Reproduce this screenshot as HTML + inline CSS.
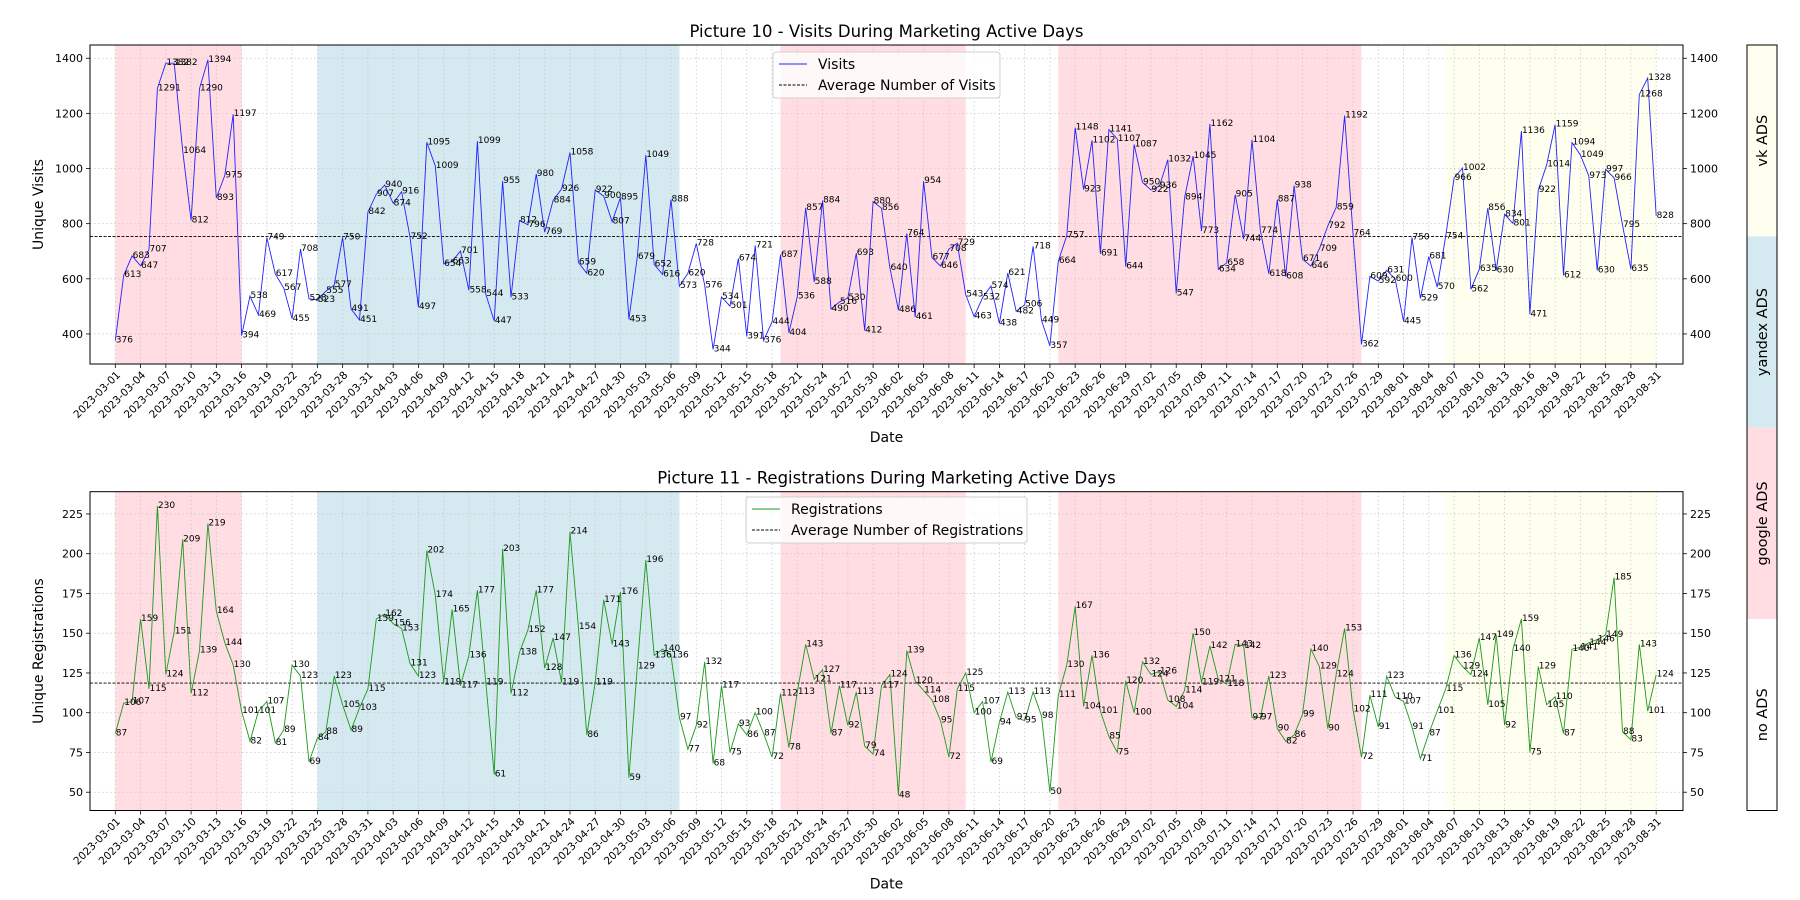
<!DOCTYPE html>
<html><head><meta charset="utf-8">
<style>
html,body{margin:0;padding:0;background:#fff;}
svg{display:block;font-family:"DejaVu Sans","Liberation Sans",sans-serif;}
</style></head>
<body>
<svg id="fig" width="1800" height="900" viewBox="0 0 1800 900" xmlns="http://www.w3.org/2000/svg"></svg>
<script>
// ---------- data ----------
const startDate = "2023-03-01";
const visits = [376,613,683,647,707,1291,1382,1382,1064,812,1290,1394,893,975,1197,394,538,469,749,617,567,455,708,528,523,555,577,750,491,451,842,907,940,874,916,752,497,1095,1009,654,663,701,558,1099,544,447,955,533,812,796,980,769,884,926,1058,659,620,922,900,807,895,453,679,1049,652,616,888,573,620,728,576,344,534,501,674,391,721,376,444,687,404,536,857,588,884,490,516,530,693,412,880,856,640,486,764,461,954,677,646,708,729,543,463,532,574,438,621,482,506,718,449,357,664,757,1148,923,1102,691,1141,1107,644,1087,950,922,936,1032,547,894,1045,773,1162,634,658,905,744,1104,774,618,887,608,938,671,646,709,792,859,1192,764,362,609,592,631,600,445,750,529,681,570,754,966,1002,562,635,856,630,834,801,1136,471,922,1014,1159,612,1094,1049,973,630,997,966,795,635,1268,1328,828];
const registrations = [87,106,107,159,115,230,124,151,209,112,139,219,164,144,130,101,82,101,107,81,89,130,123,69,84,88,123,105,89,103,115,159,162,156,153,131,123,202,174,119,165,117,136,177,119,61,203,112,138,152,177,128,147,119,214,154,86,119,171,143,176,59,129,196,136,140,136,97,77,92,132,68,117,75,93,86,100,87,72,112,78,113,143,121,127,87,117,92,113,79,74,117,124,48,139,120,114,108,95,72,115,125,100,107,69,94,113,97,95,113,98,50,111,130,167,104,136,101,85,75,120,100,132,124,126,108,104,114,150,119,142,121,118,143,142,97,97,123,90,82,86,99,140,129,90,124,153,102,72,111,91,123,110,107,91,71,87,101,115,136,129,124,147,105,149,92,140,159,75,129,105,110,87,140,141,144,146,149,185,88,83,143,101,124];
// campaign spans: [start day index, end day index, type]
const spanStarts = [0,24,79,112,158];
const spanEnds   = [15,67,101,148,183];
const spanTypes  = ["google","yandex","google","google","vk"];
const visitTicks = [400,600,800,1000,1200,1400];
const regTicks = [50,75,100,125,150,175,200,225];
const adLabels = ["vk ADS","yandex ADS","google ADS","no ADS"];

// ---------- helpers ----------
const NS="http://www.w3.org/2000/svg";
const svg=document.getElementById('fig');
function mk(tag,attrs,parent){const e=document.createElementNS(NS,tag);for(const k in attrs)e.setAttribute(k,attrs[k]);(parent||svg).appendChild(e);return e;}
const spanColor={google:"#ffdde2",yandex:"#d5e9f0",vk:"#fffff0"};
function dateStr(i){const d=new Date(startDate+"T00:00:00Z");d.setUTCDate(d.getUTCDate()+i);return d.toISOString().slice(0,10);}

const X0=90,X1=1683;
const xDay0=115.3, dayW=8.42;
function xS(i){return xDay0+i*dayW;}

function drawChart(cfg){
  const g=mk('g',{});
  
  
  const {top,bottom,ymin,ymax}=cfg;
  const yS=v=>bottom-(v-ymin)/(ymax-ymin)*(bottom-top);
  // spans
  for(let s=0;s<spanStarts.length;s++){
    const r=mk('rect',{x:xS(spanStarts[s]),y:top,width:xS(spanEnds[s])-xS(spanStarts[s]),height:bottom-top,fill:spanColor[spanTypes[s]]},g);
    
    
  }
  // grid
  for(let i=0;i<cfg.data.length;i+=3){
    mk('line',{x1:xS(i),x2:xS(i),y1:top,y2:bottom,stroke:"#c8c8c8","stroke-width":0.8,"stroke-dasharray":"1.5,2.5"},g);
  }
  cfg.ticks.forEach(t=>{
    mk('line',{x1:X0,x2:X1,y1:yS(t),y2:yS(t),stroke:"#c8c8c8","stroke-width":0.8,"stroke-dasharray":"1.5,2.5"},g);
  });
  // average
  const avg=cfg.data.reduce((a,b)=>a+b,0)/cfg.data.length;
  const av=mk('line',{x1:X0,x2:X1,y1:yS(avg),y2:yS(avg),stroke:"#000","stroke-width":0.9,"stroke-dasharray":"3,1.5"},g);
  
  
  // series
  const pts=cfg.data.map((v,i)=>xS(i).toFixed(1)+","+yS(v).toFixed(1)).join(" ");
  const pl=mk('polyline',{points:pts,fill:"none",stroke:cfg.color,"stroke-width":0.9},g);
  
  
  // labels
  cfg.data.forEach((v,i)=>{
    const t=mk('text',{x:xS(i)+0.5,y:yS(v)+2,"font-size":9,fill:"#000"},g);
    t.textContent=v;
    
    
  });
  // frame
  mk('rect',{x:X0,y:top,width:X1-X0,height:bottom-top,fill:"none",stroke:"#000","stroke-width":1},g);
  // y ticks both sides
  cfg.ticks.forEach(t=>{
    const y=yS(t);
    mk('line',{x1:X0-4,x2:X0,y1:y,y2:y,stroke:"#000","stroke-width":0.8},g);
    mk('line',{x1:X1,x2:X1+4,y1:y,y2:y,stroke:"#000","stroke-width":0.8},g);
    const l=mk('text',{x:X0-7,y:y+4,"font-size":11,"text-anchor":"end"},g);l.textContent=t;
    
    
    const r=mk('text',{x:X1+7,y:y+4,"font-size":11},g);r.textContent=t;
    
    
  });
  // x ticks
  for(let i=0;i<cfg.data.length;i+=3){
    const x=xS(i);
    mk('line',{x1:x,x2:x,y1:bottom,y2:bottom+4,stroke:"#000","stroke-width":0.8},g);
    const t=mk('text',{transform:`translate(${x+3},${bottom+9}) rotate(-45)`,"font-size":10.5,"text-anchor":"end",dy:"0.35em"},g);
    t.textContent=dateStr(i);
    
    
  }
  // title / axis labels
  const ti=mk('text',{x:(X0+X1)/2,y:top-8,"font-size":16.5,"text-anchor":"middle"},g);ti.textContent=cfg.title;
  
  
  const xl=mk('text',{x:(X0+X1)/2,y:bottom+78,"font-size":14,"text-anchor":"middle"},g);xl.textContent="Date";
  
  
  const yl=mk('text',{transform:`translate(43,${(top+bottom)/2}) rotate(-90)`,"font-size":14,"text-anchor":"middle"},g);yl.textContent=cfg.ylabel;
  
  
  // legend
  const L=cfg.legend;
  const lg=mk('g',{},g);
  
  
  mk('rect',{x:L.x,y:L.y,width:L.w,height:46,rx:3,fill:"#fff","fill-opacity":0.8,stroke:"#d0d0d0"},lg);
  mk('line',{x1:L.x+6,x2:L.x+34,y1:L.y+12,y2:L.y+12,stroke:cfg.color,"stroke-width":1},lg);
  mk('line',{x1:L.x+6,x2:L.x+34,y1:L.y+33,y2:L.y+33,stroke:"#000","stroke-width":0.9,"stroke-dasharray":"3,1.5"},lg);
  const a=mk('text',{x:L.x+45,y:L.y+17,"font-size":14},lg);a.textContent=cfg.seriesLabel;
  
  
  const b=mk('text',{x:L.x+45,y:L.y+38,"font-size":14},lg);b.textContent=cfg.avgLabel;
  
  
}

drawChart({name:"visits-chart",top:45,bottom:364,ymin:291,ymax:1448,data:visits,ticks:visitTicks,color:"#2222ff",
  seriesName:"visits-line",title:"Picture 10 - Visits During Marketing Active Days",ylabel:"Unique Visits",
  seriesLabel:"Visits",avgLabel:"Average Number of Visits",legend:{x:773,y:52,w:227}});
drawChart({name:"registrations-chart",top:491.7,bottom:810.5,ymin:38.5,ymax:239,data:registrations,ticks:regTicks,color:"#1a9a1a",
  seriesName:"registrations-line",title:"Picture 11 - Registrations During Marketing Active Days",ylabel:"Unique Registrations",
  seriesLabel:"Registrations",avgLabel:"Average Number of Registrations",legend:{x:746,y:497,w:281}});

// colorbar legend
const cb=mk('g',{});


const cbColors=["#fffff0","#d5e9f0","#ffdde2","#ffffff"];
const cbTop=45,cbBot=810.5,cbX=1747,cbW=30;
const segH=(cbBot-cbTop)/adLabels.length;
adLabels.forEach((lab,k)=>{
  const y=cbTop+k*segH;
  const r=mk('rect',{x:cbX,y:y,width:cbW,height:segH,fill:cbColors[k]},cb);
  
  
  const t=mk('text',{transform:`translate(${cbX+cbW/2+5},${y+segH/2}) rotate(-90)`,"font-size":14.5,"text-anchor":"middle"},cb);
  t.textContent=lab;
  
  
});
mk('rect',{x:cbX,y:cbTop,width:cbW,height:cbBot-cbTop,fill:"none",stroke:"#000","stroke-width":1},cb);
</script>
</body></html>
